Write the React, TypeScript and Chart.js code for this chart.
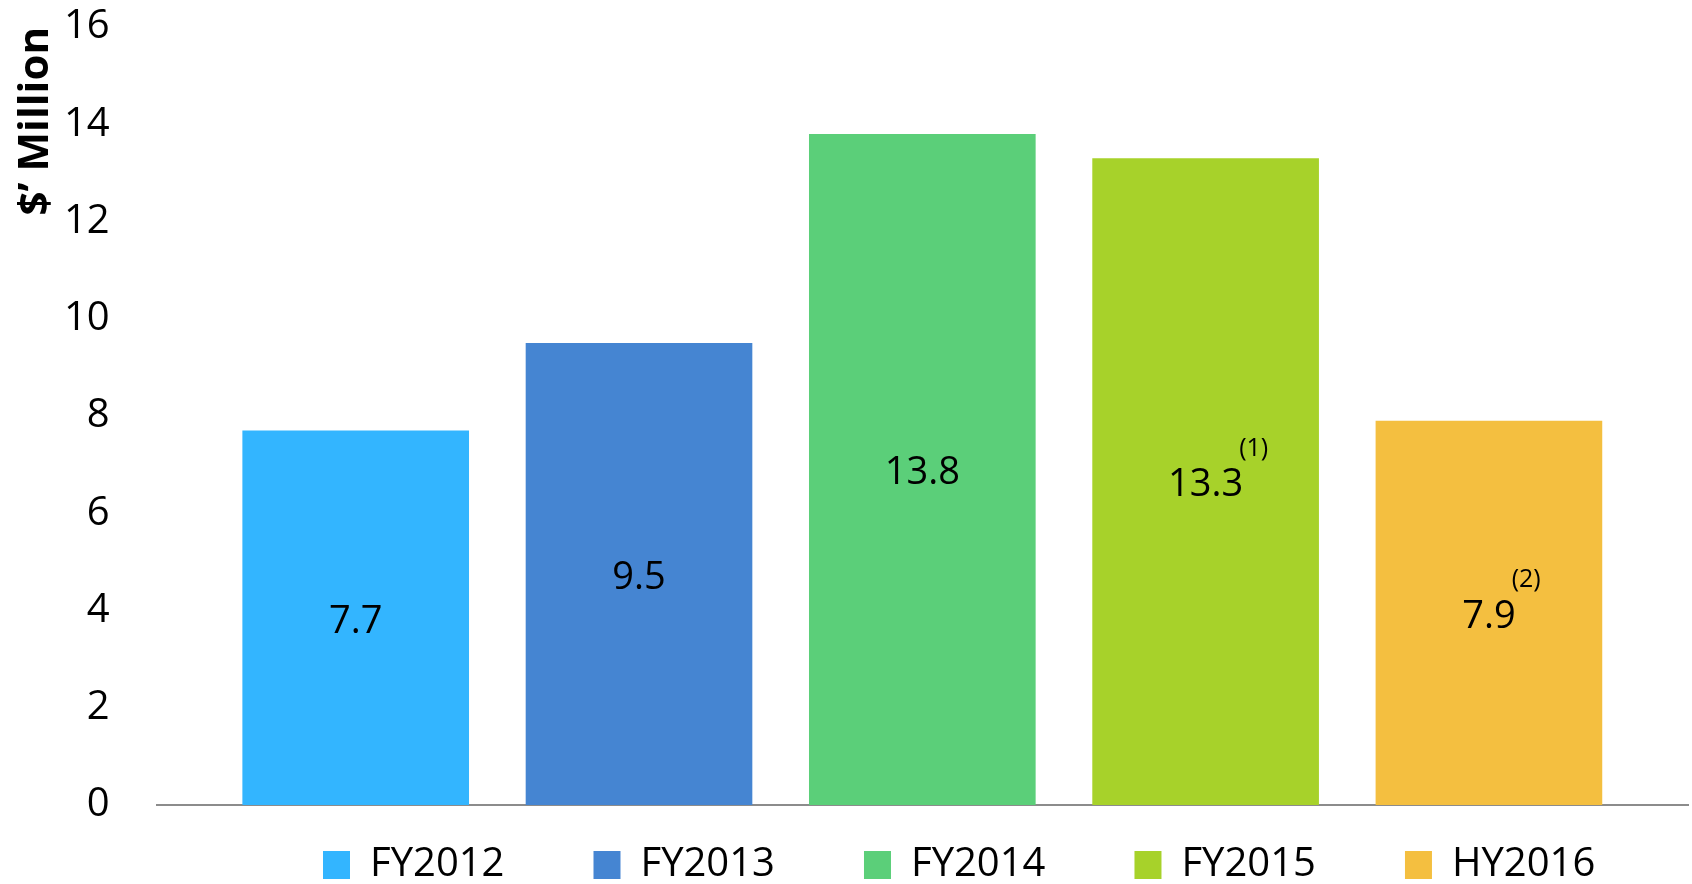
import React, { useEffect, useRef } from "react";
import { Chart, registerables } from "chart.js";

Chart.register(...registerables);

const seriesLabels = ["FY2012", "FY2013", "FY2014", "FY2015", "HY2016"];
const seriesValues = [7.7, 9.5, 13.8, 13.3, 7.9];
const seriesNotes = ["", "", "", "(1)", "(2)"];
const seriesColors = ["#33B5FF", "#4585D2", "#5BCF79", "#A7D22A", "#F4BF40"];
const yTitle = "$\u2019 Million";
const yMin = 0;
const yMax = 16;
const yStep = 2;

const FONT = '"Open Sans", sans-serif';
const TICK_PAD = 47;

const valueLabels = {
  id: "valueLabels",
  afterDatasetsDraw(chart: any) {
    const ctx = chart.ctx;
    ctx.save();
    chart.data.datasets.forEach((ds: any, i: number) => {
      const meta = chart.getDatasetMeta(i);
      const bar: any = meta.data[0];
      if (!bar) return;
      const x = bar.x;
      const y = (bar.y + bar.base) / 2 + 4;
      const txt = seriesValues[i].toFixed(1);
      ctx.font = `38px ${FONT}`;
      ctx.fillStyle = "#000";
      ctx.textAlign = "center";
      ctx.textBaseline = "middle";
      ctx.fillText(txt, x, y);
      const note = seriesNotes[i];
      if (note) {
        const w = ctx.measureText(txt).width;
        ctx.font = `25px ${FONT}`;
        ctx.textAlign = "left";
        ctx.fillText(note, x + w / 2 - 4, y - 37);
      }
    });
    ctx.restore();
  },
};

const legendPlace = {
  id: "legendPlace",
  afterLayout(chart: any) {
    const lg = chart.legend;
    if (!lg || !lg.lineWidths) return;
    const pad = lg.options.labels.padding;
    const curX = (lg.left + pad + lg.right - lg.lineWidths[0]) / 2;
    const dx = 323 - curX;
    const dy = 845 - (lg.top + pad);
    lg.left += dx;
    lg.right += dx;
    lg.top += dy;
  },
};

export default function App() {
  const ref = useRef<HTMLCanvasElement | null>(null);
  useEffect(() => {
    if (!ref.current) return;
    const chart = new Chart(ref.current, {
      type: "bar",
      data: {
        labels: [""],
        datasets: seriesLabels.map((l, i) => ({
          label: l,
          data: [seriesValues[i]],
          backgroundColor: seriesColors[i],
          borderWidth: 0,
          categoryPercentage: 0.925,
          barPercentage: 0.8,
        })),
      },
      options: {
        animation: false,
        responsive: true,
        maintainAspectRatio: false,
        layout: { padding: { left: 8, right: 4, top: 27, bottom: 0 } },
        font: { family: FONT },
        plugins: {
          tooltip: { enabled: false },
          legend: {
            display: true,
            position: "bottom",
            maxHeight: 79,
            labels: {
              boxWidth: 27,
              boxHeight: 28,
              padding: 89,
              color: "#000",
              font: { family: FONT, size: 40 },
            },
          },
        },
        scales: {
          x: {
            type: "category",
            grid: { display: false, drawTicks: false },
            border: { display: true, color: "#8C8C8C", width: 2 },
            ticks: { display: false },
          },
          y: {
            min: yMin,
            max: yMax,
            grid: { display: false, drawTicks: false },
            border: { display: false },
            afterFit: (scale: any) => {
              scale.width -= TICK_PAD;
              scale.paddingTop = 0;
              scale.paddingBottom = 0;
            },
            ticks: {
              stepSize: yStep,
              padding: TICK_PAD,
              color: "#000",
              font: { family: FONT, size: 40 },
            },
            title: {
              display: true,
              text: yTitle,
              align: "end",
              color: "#000",
              font: { family: FONT, size: 42, weight: "bold", lineHeight: 1.14 },
              padding: { top: 4, bottom: 4 },
            },
          },
        },
      },
      plugins: [valueLabels, legendPlace],
    } as any);
    return () => chart.destroy();
  }, []);
  return (
    <div style={{ position: "fixed", left: 0, top: 0, width: "100vw", height: "100vh", background: "#fff" }}>
      <canvas ref={ref} />
    </div>
  );
}
